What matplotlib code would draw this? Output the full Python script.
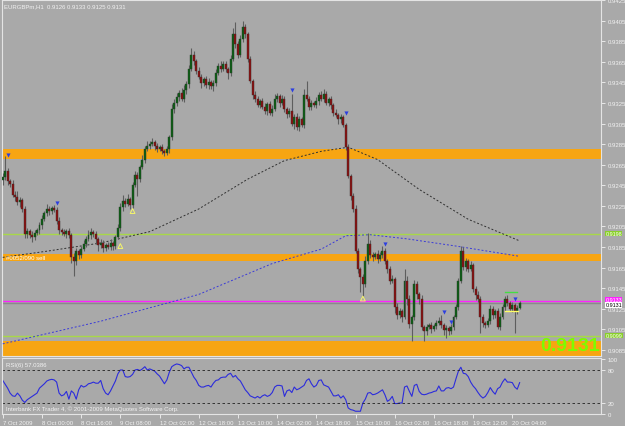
import numpy as np
import matplotlib
matplotlib.use('Agg')
import matplotlib.pyplot as plt

# EURGBPm H1, 7 Oct 2009 .. 20 Oct 2009 (one value per bar)
open_first = 0.9250
closes = [
    0.9253, 0.9259, 0.9249, 0.9246, 0.9236, 0.9234, 0.9229, 0.9231, 0.9222, 0.9198,
    0.9201, 0.9197, 0.9195, 0.9199, 0.9202, 0.9206, 0.9212, 0.9218, 0.9222, 0.9220, 0.9223, 0.9221,
    0.9210, 0.9202, 0.9200, 0.9198, 0.9201, 0.9197, 0.9175, 0.9171, 0.9181, 0.9177, 0.9183, 0.9188,
    0.9193, 0.9197, 0.9200, 0.9198, 0.9193, 0.9187, 0.9189, 0.9184, 0.9187, 0.9185, 0.9189, 0.9186,
    0.9195, 0.9204, 0.9224, 0.9230, 0.9227, 0.9232, 0.9226, 0.9245, 0.9255, 0.9251, 0.9263, 0.9270, 0.9280, 0.9283,
    0.9285, 0.9287, 0.9283, 0.9280, 0.9282, 0.9278, 0.9276, 0.9280, 0.9292, 0.9319, 0.9325,
    0.9331, 0.9335, 0.9329, 0.9338, 0.9343, 0.9358, 0.9372, 0.9366, 0.9356, 0.9350,
    0.9344, 0.9348, 0.9342, 0.9345, 0.9341, 0.9344, 0.9354, 0.9361, 0.9358, 0.9363,
    0.9358, 0.9354, 0.9368, 0.9392, 0.9382, 0.9372, 0.9387, 0.9399, 0.9392, 0.9368,
    0.9346, 0.9333, 0.9329, 0.9323, 0.9327,
    0.9321, 0.9317, 0.9324, 0.9315, 0.9319, 0.9329, 0.9332, 0.9325, 0.9329, 0.9319,
    0.9314, 0.9317, 0.9305, 0.9311, 0.9302, 0.9309, 0.9304, 0.9333, 0.9329, 0.9321,
    0.9325, 0.9323, 0.9327, 0.9333, 0.9329, 0.9334, 0.9325, 0.9329, 0.9323, 0.9315,
    0.9313, 0.9309, 0.9311, 0.9304,
    0.9282, 0.9254, 0.9235, 0.9222, 0.9181, 0.9164, 0.9156, 0.9149, 0.9171, 0.9188,
    0.9177, 0.9175, 0.9178, 0.9173, 0.9177, 0.9181, 0.9171, 0.9164, 0.9152, 0.9154, 0.9127,
    0.9119, 0.9123, 0.9117, 0.9152, 0.9135, 0.9110, 0.9117, 0.9149, 0.9139, 0.9135,
    0.9107, 0.9103, 0.9107, 0.9109, 0.9105, 0.9108, 0.9111, 0.9113, 0.9109, 0.9104,
    0.9106, 0.9103, 0.9107, 0.9117, 0.9127,
    0.9152, 0.9181, 0.9166, 0.9171, 0.9164, 0.9168, 0.9144, 0.9138, 0.9135, 0.9117,
    0.9111, 0.9109, 0.9113, 0.9125, 0.9119, 0.9123, 0.9107, 0.9117, 0.9127, 0.9135,
    0.9131, 0.9125, 0.9129, 0.9123, 0.9126, 0.9131,
]
# wick lengths in pips above / below the body
up_wick = [
    4, 14, 3, 2, 4, 3, 5, 3, 2, 3,
    3, 2, 4, 3, 2, 3, 4, 2, 5, 3, 2, 3,
    3, 4, 2, 3, 2, 3, 2, 4, 3, 2, 3, 4,
    3, 5, 4, 2, 3, 2, 4, 3, 2, 3, 4, 2,
    2, 3, 4, 6, 3, 5, 2, 3, 4, 3, 2, 4, 3, 5,
    3, 4, 2, 3, 2, 3, 2, 3, 2, 5, 4,
    4, 3, 5, 4, 3, 4, 6, 3, 2, 4, 3, 2, 3, 4, 2, 3, 4, 3, 5, 3,
    3, 2, 4, 6, 12, 3, 4, 6, 3, 2, 3, 2, 4, 3, 2,
    3, 4, 2, 3, 4, 5, 3, 2, 4, 3, 2, 3, 17, 3, 4, 3, 2, 6, 13, 3,
    3, 2, 4, 3, 4, 5, 3, 2, 3, 2, 4, 2, 3, 2,
    2, 3, 2, 3, 4, 3, 2, 3, 5, 11, 4, 3, 2, 4, 3, 5, 3, 2, 3, 4, 2,
    4, 3, 2, 12, 5, 3, 2, 4, 3, 2, 3, 2, 3, 2, 3, 2, 3, 4, 6, 2, 3, 2, 3, 2, 3,
    3, 5, 4, 3, 2, 3, 2, 3, 4, 2, 3, 2, 3, 4, 3, 2, 3, 4, 3, 2, 3, 2, 3, 2, 3, 2,
]
low_wick = [
    5, 3, 4, 3, 2, 4, 3, 5, 3, 4,
    4, 3, 5, 3, 2, 4, 3, 2, 3, 4, 3, 2,
    3, 4, 3, 2, 4, 3, 5, 14, 3, 4, 3, 2,
    3, 2, 4, 3, 5, 6, 3, 4, 3, 2, 3, 4,
    3, 2, 3, 4, 3, 2, 4, 3, 2, 16, 3, 2, 3, 2,
    3, 2, 4, 3, 2, 3, 3, 2, 4, 3, 4,
    3, 4, 2, 3, 4, 3, 2, 4, 3, 2, 4, 3, 2, 3, 2, 4, 3, 2, 3, 2,
    3, 6, 3, 2, 4, 3, 2, 3, 4, 3, 2, 4, 3, 2, 3,
    2, 3, 4, 2, 3, 2, 3, 4, 2, 3, 4, 3, 2, 5, 3, 4, 2, 3, 2, 3,
    3, 2, 3, 4, 2, 3, 2, 3, 4, 3, 2, 4, 3, 2,
    3, 2, 4, 3, 2, 4, 15, 12, 3, 2, 3, 4, 2, 3, 2, 3, 2, 4, 3, 2, 6,
    4, 3, 5, 2, 6, 4, 16, 3, 4, 5, 3, 9, 3, 2, 3, 2, 3, 2, 3, 4, 7, 3, 2, 3, 2,
    3, 2, 3, 4, 3, 2, 3, 4, 3, 15, 4, 3, 2, 3, 4, 3, 2, 3, 2, 4, 3, 2, 3, 21, 3, 1,
]
rsi = [
    61, 54, 47, 38, 33, 32, 38, 33, 25, 21, 26, 29, 32, 35, 38, 47, 51, 55, 60, 62,
    63, 62, 58, 38, 33, 35, 41, 27, 42, 38, 27, 44, 52, 49, 51, 55, 56, 58, 56, 56,
    61, 46, 38, 35, 42, 51, 60, 73, 80, 80, 68, 67, 68, 72, 80, 81, 79, 82, 86, 80,
    82, 80, 78, 73, 69, 62, 55, 62, 76, 86, 89, 91, 90, 88, 82, 85, 85, 76, 67, 61,
    52, 49, 49, 51, 52, 49, 56, 61, 62, 66, 67, 67, 72, 74, 67, 70, 64, 60, 52, 44,
    39, 33, 31, 29, 32, 29, 33, 35, 32, 34, 39, 49, 52, 52, 51, 32, 42, 44, 39, 49,
    44, 46, 49, 52, 61, 64, 55, 49, 52, 61, 62, 53, 51, 49, 41, 33, 33, 35, 29, 33,
    26, 11, 8, 7, 5, 5, 5, 20, 27, 38, 39, 35, 36, 38, 41, 44, 35, 23, 26, 32,
    19, 19, 20, 20, 49, 51, 41, 32, 52, 54, 41, 36, 35, 36, 38, 39, 41, 42, 51, 42,
    42, 47, 48, 46, 49, 64, 78, 85, 74, 73, 68, 58, 51, 46, 39, 33, 29, 32, 39, 48,
    41, 36, 46, 49, 58, 64, 58, 58, 57, 49, 45, 57.0386,
]

# moving averages read at a few bars
ma_slow_bar = [0, 18, 40, 60, 80, 100, 115, 130, 141, 153, 170, 190, 211]
ma_slow = [0.9175, 0.9181, 0.9189, 0.9200, 0.9222, 0.9251, 0.9269, 0.9278, 0.9282,
           0.9270, 0.9241, 0.9212, 0.9191]
ma_long_bar = [0, 40, 80, 110, 130, 140, 150, 165, 185, 211]
ma_long = [0.9091, 0.9113, 0.9139, 0.9169, 0.9183, 0.9196, 0.9197, 0.9193, 0.9186, 0.9176]

# support / resistance zones and levels
zones = [(0.9271, 0.9280), (0.9171, 0.9178), (0.9060, 0.9094)]
green_levels = [0.9198, 0.9099]
magenta_level = 0.9133

# fractal arrows and signal marks
fractal_bar = [2, 22, 118, 140, 156, 180, 183, 209]
fractal_price = [0.9274, 0.9228, 0.9338, 0.9315, 0.9188, 0.9122, 0.9112, 0.9135]
signal_bar = [48, 53, 147]
signal_price = [0.9186, 0.9220, 0.9135]

tick_bars = [0, 16, 32, 48, 64, 80, 96, 112, 128, 144, 160, 176, 192, 208]
tick_text = ['7 Oct 2009', '8 Oct 00:00', '8 Oct 16:00', '9 Oct 08:00', '12 Oct 02:00',
             '12 Oct 18:00', '13 Oct 10:00', '14 Oct 02:00', '14 Oct 18:00', '15 Oct 10:00',
             '16 Oct 02:00', '16 Oct 18:00', '19 Oct 12:00', '20 Oct 04:00']

BG = '#a9a9a9'
FRAME = '#e4e4e4'
TXT = '#f2f2f2'
ORANGE = '#f7a512'
FS = 4.3
plt.rcParams['font.family'] = ['Liberation Sans', 'DejaVu Sans']

c = np.array(closes)
o = np.concatenate([[open_first], c[:-1]])
hi = np.maximum(o, c) + np.array(up_wick) * 0.0001
lo = np.minimum(o, c) - np.array(low_wick) * 0.0001
x = np.arange(len(c))

W, H = 625, 427
fig = plt.figure(figsize=(W / 100, H / 100), dpi=100, facecolor=BG)


def px_axes(l, t, r, b):
    return fig.add_axes([l / W, 1 - b / H, (r - l) / W, (b - t) / H])


ax = px_axes(2, 1, 601, 357)
ar = px_axes(2, 359, 601, 415)
xlim = (-0.3, 244.2)

for a in (ax, ar):
    a.set_facecolor(BG)
    a.set_xlim(*xlim)
    for s in a.spines.values():
        s.set_color(FRAME)
        s.set_linewidth(0.8)

# main price panel
ax.set_ylim(0.90792, 0.9425)
for z0, z1 in zones:
    ax.axhspan(z0, z1, color=ORANGE, lw=0, zorder=1)
for lv in green_levels:
    ax.axhline(lv, color='#a8d848', lw=1, zorder=2)
ax.axhline(magenta_level, color='#ff22ff', lw=1, zorder=2)
ax.axhline(c[-1], color='#8a8a8a', lw=1, zorder=2)

ax.plot(ma_slow_bar, ma_slow, color='#303030', lw=0.7, ls=(0, (2, 2)), zorder=3)
ax.plot(ma_long_bar, ma_long, color='#3a3ad8', lw=0.7, ls=(0, (2, 2)), zorder=3)

ax.vlines(x, lo, hi, color='#5e5e5e', lw=0.8, zorder=4)
up = c >= o
body = np.maximum(np.abs(c - o), 0.00004)
ax.bar(x[up], body[up], bottom=np.minimum(o, c)[up], width=0.8, color='#0b5e14',
       edgecolor='#2c3d2c', lw=0.3, zorder=5)
ax.bar(x[~up], body[~up], bottom=np.minimum(o, c)[~up], width=0.8, color='#8c0f0f',
       edgecolor='#3d2c2c', lw=0.3, zorder=5)

ax.scatter(fractal_bar, fractal_price, marker='v', s=9, color='#2d3fe0', zorder=6, lw=0)
ax.scatter(signal_bar, signal_price, marker='^', s=12, facecolor='none',
           edgecolor='#f5f56a', lw=0.7, zorder=6)
ax.plot([205, 210], [0.9141, 0.9141], color='#44dd44', lw=1, zorder=6)
ax.plot([205, 210.5], [0.9123, 0.9123], color='#ffff66', lw=1, zorder=6)

ax.yaxis.tick_right()
ax.set_yticks(np.arange(0.9085, 0.94251, 0.002))
ax.yaxis.set_major_formatter(matplotlib.ticker.FormatStrFormatter('%.4f'))
ax.tick_params(axis='y', colors=TXT, labelsize=FS, length=3, width=0.6, pad=1.5)
ax.tick_params(axis='x', bottom=False, labelbottom=False)

ytr = ax.get_yaxis_transform()
box_labels = [(green_levels[0], green_levels[0], '#8ad02a', 'white'),
              (magenta_level + 0.0001, magenta_level, '#ff22ff', 'white'),
              (c[-1] - 0.0002, c[-1], 'white', 'black'),
              (green_levels[1], green_levels[1], '#8ad02a', 'white')]
for ypos, val, fc, tc in box_labels:
    ax.text(1.0075, ypos, f'{val:.4f}', transform=ytr, fontsize=3.9, color=tc,
            va='center', ha='left', clip_on=False,
            bbox=dict(boxstyle='square,pad=0.05', fc=fc, ec='none'))

ax.text(0.998, 0.006, f'{c[-1]:.4f}', transform=ax.transAxes, ha='right', va='bottom',
        fontsize=14, fontweight='bold', color='#7cfc00', zorder=7)
ax.text(4 / 599, zones[1][0] + 0.00035, '#0052/090 sell', transform=ytr, fontsize=FS,
        color='white', va='center', ha='left', zorder=7)

fig.text(4 / W, 1 - 7 / H, f'EURGBPm,H1  {o[-1]:.4f} {hi[-1]:.4f} {lo[-1]:.4f} {c[-1]:.4f}',
         fontsize=FS, color=TXT, va='center')

# RSI panel
ar.set_ylim(0, 101.8)
ar.plot(x, rsi, color='#2c2cdc', lw=0.8)
for lv in (80, 20):
    ar.axhline(lv, color='#202020', lw=0.6, ls=(0, (3, 3)))
ar.yaxis.tick_right()
ar.set_yticks([0, 20, 80, 100])
ar.tick_params(axis='y', colors=TXT, labelsize=FS, length=3, width=0.6, pad=1.5)
ar.set_xticks(tick_bars)
ar.set_xticklabels(tick_text)
ar.tick_params(axis='x', colors=TXT, labelsize=FS, length=3, width=0.6, pad=1.5)
for lab in ar.get_xticklabels():
    lab.set_ha('left')
ar.text(4 / 599, 0.88, f'RSI(6) {rsi[-1]:.4f}', transform=ar.transAxes, fontsize=FS,
        color=TXT, va='center')
ar.text(4 / 599, 0.1, 'Interbank FX Trader 4, \u00a9 2001-2009 MetaQuotes Software Corp.',
        transform=ar.transAxes, fontsize=FS, color=TXT, va='center')

fig.savefig('out.png', dpi=100, facecolor=BG)
